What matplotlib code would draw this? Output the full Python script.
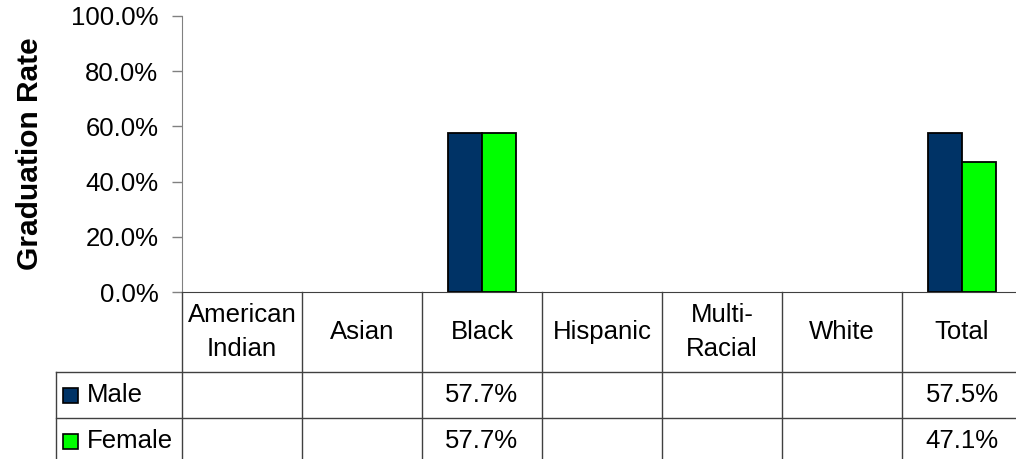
import matplotlib.pyplot as plt
import matplotlib.transforms as mtransforms
from matplotlib.patches import Rectangle
import numpy as np

plt.rcParams['font.family'] = ['Liberation Sans', 'DejaVu Sans']

# Data
categories = ["American\nIndian", "Asian", "Black", "Hispanic", "Multi-\nRacial", "White", "Total"]
male = [np.nan, np.nan, 57.7, np.nan, np.nan, np.nan, 57.5]
female = [np.nan, np.nan, 57.7, np.nan, np.nan, np.nan, 47.1]
series_names = ["Male", "Female"]
colors = ["#003366", "#00FF00"]

fs = 18.5

fig = plt.figure(figsize=(10.16, 4.59), dpi=100)
ax = fig.add_axes([0.179, 0.3638, 0.827, 0.6014])

x = np.arange(len(categories))
w = 0.283
ax.bar(x - w / 2, male, w, color=colors[0], edgecolor='black', linewidth=1.3)
ax.bar(x + w / 2, female, w, color=colors[1], edgecolor='black', linewidth=1.3)

ax.set_xlim(-0.5, len(categories) - 0.5)
ax.set_ylim(0, 100)
ax.set_yticks(np.arange(0, 101, 20))
ax.set_yticklabels([f"{v:.1f}%" for v in np.arange(0, 101, 20)], fontsize=fs)
ax.tick_params(axis='y', length=7, width=1, color='#808080', pad=10)
ax.set_xticks([])
for s in ['top', 'right']:
    ax.spines[s].set_visible(False)
ax.spines['left'].set_color('#808080')
ax.spines['bottom'].set_color('#404040')
ax.set_ylabel("Graduation Rate", fontsize=21.5, fontweight='bold', labelpad=19)

# Data table below the axes
tr = mtransforms.blended_transform_factory(ax.transData, ax.transAxes)
lc = '#404040'
hdr_bot = -0.29
male_bot = -0.4565
fem_bot = -0.623
leg_left = -1.55
n = len(categories)

for i in range(n + 1):
    xb = i - 0.5
    ax.plot([xb, xb], [0, fem_bot], transform=tr, color=lc, lw=1, clip_on=False)
ax.plot([leg_left, leg_left], [hdr_bot, fem_bot], transform=tr, color=lc, lw=1, clip_on=False)
for yb in [hdr_bot, male_bot]:
    ax.plot([leg_left, n - 0.5], [yb, yb], transform=tr, color=lc, lw=1, clip_on=False)

for i, c in enumerate(categories):
    ax.text(i, hdr_bot / 2, c, transform=tr, ha='center', va='center',
            fontsize=fs, linespacing=1.5, clip_on=False)

rows = [(male, (hdr_bot + male_bot) / 2), (female, (male_bot + fem_bot) / 2)]
for k, (vals, yc) in enumerate(rows):
    ax.add_patch(Rectangle((leg_left + 0.06, yc - 0.03), 0.125, 0.054, transform=tr,
                           facecolor=colors[k], edgecolor='black', lw=1.2, clip_on=False))
    ax.text(leg_left + 0.26, yc, series_names[k], transform=tr, ha='left', va='center',
            fontsize=fs, clip_on=False)
    for i, v in enumerate(vals):
        if not np.isnan(v):
            ax.text(i, yc, f"{v:.1f}%", transform=tr, ha='center', va='center',
                    fontsize=fs, clip_on=False)

plt.savefig('out.png', dpi=100)
